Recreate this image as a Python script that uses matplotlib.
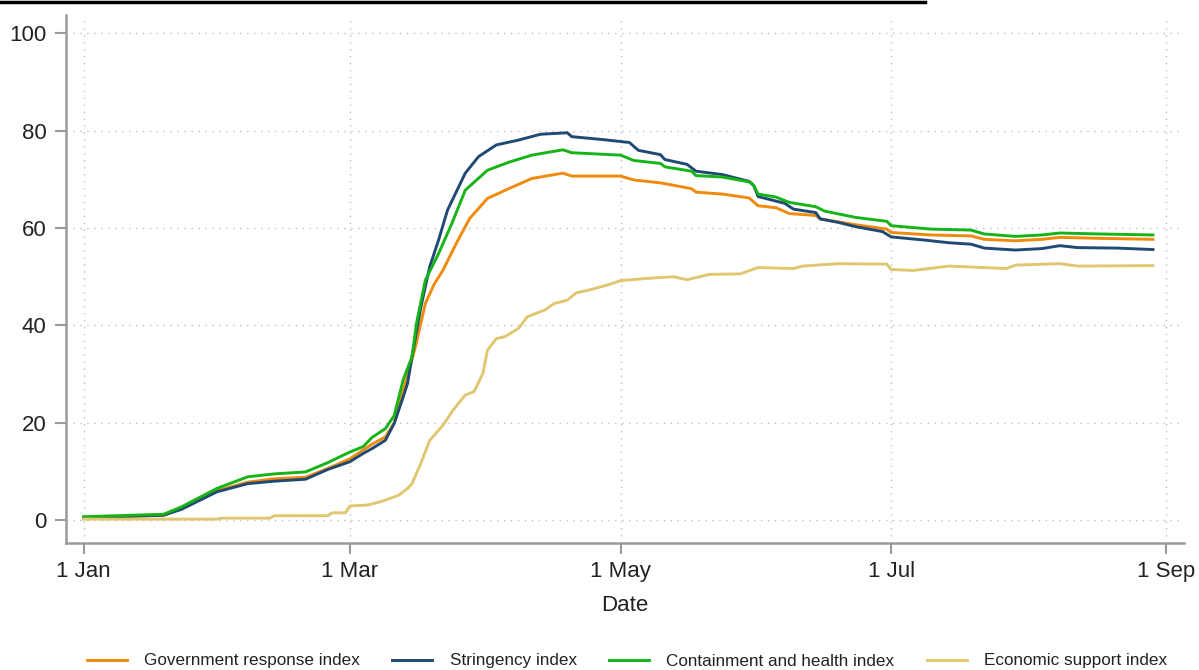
import numpy as np
import matplotlib
matplotlib.use("Agg")
import matplotlib.pyplot as plt
import matplotlib.dates as mdates
from matplotlib.lines import Line2D

plt.rcParams['font.family'] = ['Liberation Sans', 'DejaVu Sans']

# values, x = days since 1 Jan 2020
gov_days = [0, 18, 22, 30, 37, 43, 50, 55, 60, 63, 65, 68, 70, 72, 74, 75, 77, 79, 81,
            84, 87, 91, 96, 101, 108, 110, 121, 124, 130, 133, 137, 138, 144, 150,
            152, 156, 159, 165, 166, 174, 181, 182, 191, 200, 203, 210, 216, 220, 229, 241]
gov_vals = [0.5, 1.0, 2.4, 6.0, 7.8, 8.5, 8.8, 10.6, 12.6, 14.4, 15.6, 17.1, 20.0, 26.5, 33.0,
            36.5, 44.5, 48.5, 51.4, 56.9, 62.0, 66.1, 68.2, 70.2, 71.3, 70.7, 70.7, 69.9, 69.3,
            68.8, 68.1, 67.4, 67.0, 66.2, 64.6, 64.2, 63.0, 62.6, 61.9, 60.7, 59.8, 59.1,
            58.6, 58.4, 57.7, 57.4, 57.7, 58.1, 57.9, 57.7]

str_days = [0, 18, 22, 30, 37, 43, 50, 55, 60, 63, 65, 68, 70, 72, 73, 74, 76, 78, 80, 82,
            86, 89, 93, 98, 103, 109, 110, 117, 123, 125, 130, 131, 136, 138, 144, 150,
            151, 152, 158, 160, 165, 166, 170, 174, 180, 182, 190, 195, 200, 203, 210,
            216, 220, 224, 233, 241]
str_vals = [0.5, 1.0, 2.2, 5.8, 7.5, 8.0, 8.4, 10.4, 12.0, 13.7, 14.7, 16.4, 19.9, 25.3, 28.1,
            33.6, 43.8, 52.1, 57.6, 63.7, 71.3, 74.7, 77.1, 78.1, 79.3, 79.6, 78.8, 78.2,
            77.6, 76.0, 75.1, 74.1, 73.1, 71.7, 71.0, 69.6, 68.8, 66.5, 65.1, 63.9, 63.2,
            61.9, 61.2, 60.3, 59.3, 58.2, 57.5, 57.0, 56.7, 55.9, 55.5, 55.8, 56.4, 56.0,
            55.9, 55.6]

con_days = [0, 18, 22, 30, 37, 43, 50, 55, 60, 63, 65, 68, 70, 72, 74, 75, 77, 80, 83,
            86, 91, 96, 101, 108, 110, 121, 124, 130, 131, 137, 138, 144, 150, 151, 152,
            156, 159, 165, 167, 174, 181, 182, 191, 200, 203, 210, 216, 220, 229, 241]
con_vals = [0.7, 1.2, 2.7, 6.5, 8.9, 9.5, 9.9, 11.8, 14.0, 15.1, 17.0, 18.8, 21.5, 28.8, 33.6,
            40.4, 49.3, 54.8, 61.0, 67.8, 71.9, 73.6, 75.0, 76.1, 75.5, 75.0, 73.9, 73.3,
            72.6, 71.7, 70.8, 70.5, 69.5, 68.8, 67.0, 66.4, 65.3, 64.4, 63.5, 62.2, 61.4,
            60.5, 59.8, 59.6, 58.8, 58.3, 58.6, 59.0, 58.8, 58.6]

eco_days = [0, 30, 31, 42, 43, 55, 56, 59, 60, 64, 67, 71, 73, 74, 76, 78, 81, 83, 86, 88,
            90, 91, 93, 95, 98, 100, 104, 106, 109, 111, 114, 118, 121, 126, 129, 133,
            136, 141, 148, 152, 160, 162, 170, 181, 182, 187, 195, 208, 210, 220, 224, 241]
eco_vals = [0.2, 0.2, 0.4, 0.4, 0.9, 0.9, 1.5, 1.5, 2.9, 3.1, 3.8, 5.1, 6.5, 7.5, 11.7, 16.4,
            19.5, 22.3, 25.7, 26.4, 30.2, 34.9, 37.3, 37.7, 39.4, 41.8, 43.2, 44.5, 45.2,
            46.7, 47.3, 48.3, 49.2, 49.6, 49.8, 50.0, 49.4, 50.5, 50.6, 51.9, 51.7, 52.2,
            52.7, 52.6, 51.5, 51.3, 52.2, 51.7, 52.4, 52.7, 52.2, 52.3]

series = [
    ("Government response index", gov_days, gov_vals, "#f08a0c"),
    ("Stringency index", str_days, str_vals, "#1f4a73"),
    ("Containment and health index", con_days, con_vals, "#16b416"),
    ("Economic support index", eco_days, eco_vals, "#e0c670"),
]

start = np.datetime64('2020-01-01')
tick_dates = ['2020-01-01', '2020-03-01', '2020-05-01', '2020-07-01', '2020-09-01']
tick_labels = ['1 Jan', '1 Mar', '1 May', '1 Jul', '1 Sep']
yticks = [0, 20, 40, 60, 80, 100]

fig = plt.figure(figsize=(11.99, 6.70), dpi=100)
ax = fig.add_axes([0.055, 0.1896, 0.9325, 0.788])

for name, d, v, c in series:
    x = start + np.array(d).astype('timedelta64[D]')
    ax.plot(x, v, color=c, lw=2.1, label=name, solid_joinstyle='round')

ax.set_xlim(start - np.timedelta64(4, 'D'), start + np.timedelta64(248, 'D'))
ax.set_ylim(-4.7, 103.8)
ax.set_xticks([np.datetime64(t) for t in tick_dates])
ax.set_xticklabels(tick_labels)
ax.set_yticks(yticks)

ax.grid(True, color='#bdbdbd', linestyle=(0, (1, 4)), linewidth=1.0)
for s in ['top', 'right']:
    ax.spines[s].set_visible(False)
for s in ['left', 'bottom']:
    ax.spines[s].set_color('#9a9a9a')
    ax.spines[s].set_linewidth(1.8)
ax.tick_params(axis='both', colors='#9a9a9a', length=8, width=1.5, labelsize=16,
               labelcolor='#222222')
ax.tick_params(axis='x', pad=5)
ax.tick_params(axis='y', pad=6)
ax.set_xlabel("Date", fontsize=16, color='#222222', labelpad=9)

fig.legend(loc='center', bbox_to_anchor=(627 / 1199, 1 - 661 / 670), ncol=4,
           frameon=False, fontsize=12.3, handlelength=2.35, handletextpad=1.0,
           columnspacing=1.9, labelcolor='#222222')

fig.add_artist(Line2D([0, 925 / 1199], [1 - 1.5 / 670] * 2, color='black', lw=2.5))

fig.savefig("out.png", dpi=100)
